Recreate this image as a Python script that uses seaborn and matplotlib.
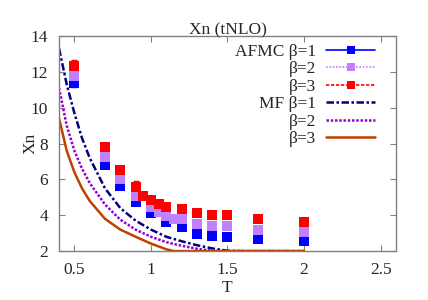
import numpy as np
import matplotlib
matplotlib.use("Agg")
import matplotlib.pyplot as plt
import seaborn as sns
from matplotlib.lines import Line2D

# --- AFMC data (T, Xn, err) ---
T_afmc1 = [0.5, 0.7, 0.8, 0.9, 1.0, 1.1, 1.2, 1.3, 1.4, 1.5, 1.7, 2.0]
Xn_afmc1 = [11.39, 6.80, 5.63, 4.73, 4.10, 3.60, 3.32, 2.95, 2.84, 2.80, 2.65, 2.56]
err_afmc1 = [0.22, 0.15, 0.12, 0.12, 0.10, 0.10, 0.12, 0.10, 0.08, 0.08, 0.08, 0.08]

T_afmc2 = [0.5, 0.7, 0.8, 0.9, 1.0, 1.05, 1.1, 1.15, 1.2, 1.3, 1.4, 1.5, 1.7, 2.0]
Xn_afmc2 = [11.77, 7.23, 6.00, 5.10, 4.44, 4.18, 3.95, 3.79, 3.77, 3.50, 3.40, 3.38, 3.17, 3.06]
err_afmc2 = [0.20, 0.18, 0.12, 0.12, 0.10, 0.10, 0.10, 0.08, 0.08, 0.08, 0.08, 0.08, 0.08, 0.08]

T_afmc3 = [0.5, 0.7, 0.8, 0.9, 0.95, 1.0, 1.05, 1.1, 1.2, 1.3, 1.4, 1.5, 1.7, 2.0]
Xn_afmc3 = [12.34, 7.80, 6.54, 5.55, 5.09, 4.85, 4.62, 4.47, 4.33, 4.10, 4.00, 4.00, 3.77, 3.62]
err_afmc3 = [0.32, 0.15, 0.12, 0.35, 0.12, 0.10, 0.10, 0.10, 0.10, 0.08, 0.08, 0.08, 0.08, 0.08]

# --- mean-field curves ---
T_mf1 = [0.4, 0.45, 0.5, 0.55, 0.6, 0.7, 0.8, 0.9, 1.0, 1.1, 1.2, 1.3, 1.4, 1.5, 1.6, 2.0]
Xn_mf1 = [13.3, 11.3, 9.7, 8.3, 7.2, 5.5, 4.4, 3.7, 3.2, 2.8, 2.55, 2.33, 2.15, 2.02, 2.0, 2.0]

T_mf2 = [0.4, 0.45, 0.5, 0.55, 0.6, 0.7, 0.8, 0.9, 1.0, 1.1, 1.2, 1.3, 1.4, 1.5, 2.0]
Xn_mf2 = [11.1, 9.0, 7.6, 6.6, 5.8, 4.6, 3.75, 3.2, 2.8, 2.5, 2.3, 2.13, 2.02, 2.0, 2.0]

T_mf3 = [0.4, 0.45, 0.5, 0.55, 0.6, 0.7, 0.8, 0.9, 1.0, 1.1, 1.15, 2.0]
Xn_mf3 = [9.4, 7.6, 6.4, 5.5, 4.8, 3.8, 3.2, 2.8, 2.42, 2.1, 2.0, 2.0]

C_BLUE, C_PURP, C_RED = "#0000ff", "#c080ff", "#ff0000"
C_NAVY, C_VIOL, C_BROWN = "#000080", "#9400d3", "#c04000"

sns.set_theme(style="ticks")
plt.rcParams['font.family'] = ['Liberation Serif', 'DejaVu Serif']

fig = plt.figure(figsize=(4.28, 3.0), dpi=100)
ax = fig.add_axes([0.138, 0.163, 0.787, 0.717])

# MF curves
sns.lineplot(x=T_mf1, y=Xn_mf1, ax=ax, color=C_NAVY, lw=1.8, zorder=2)
ax.lines[-1].set_linestyle((0, (3, 1, 1, 1)))
sns.lineplot(x=T_mf2, y=Xn_mf2, ax=ax, color=C_VIOL, lw=1.8, zorder=2)
ax.lines[-1].set_linestyle((0, (1, 0.7)))
sns.lineplot(x=T_mf3, y=Xn_mf3, ax=ax, color=C_BROWN, lw=1.8, zorder=2)

# AFMC points
for T, X, E, c in [(T_afmc1, Xn_afmc1, err_afmc1, C_BLUE),
                   (T_afmc2, Xn_afmc2, err_afmc2, C_PURP),
                   (T_afmc3, Xn_afmc3, err_afmc3, C_RED)]:
    ax.errorbar(T, X, yerr=E, fmt="none", ecolor=c, elinewidth=1.0, capsize=2, zorder=3)
    sns.scatterplot(x=T, y=X, ax=ax, color=c, marker="s", s=48, linewidth=0, zorder=4)

ax.set_xlim(0.4, 2.6)
ax.set_ylim(2, 14)
ax.set_xticks([0.5, 1, 1.5, 2, 2.5])
ax.set_xticklabels(["0.5", "1", "1.5", "2", "2.5"])
ax.set_yticks([2, 4, 6, 8, 10, 12, 14])
ax.tick_params(direction="in", length=4, width=0.8, color="#808080", labelsize=12.5,
               top=True, right=True, pad=8)
for s in ax.spines.values():
    s.set_color("#808080")
    s.set_linewidth(1.0)

ax.set_xlabel("T", fontsize=12.5, labelpad=1)
ax.set_ylabel("Xn", fontsize=12.5, labelpad=-6)
ax.set_title("Xn (tNLO)", fontsize=12.5, pad=1)

handles = [
    Line2D([], [], color=C_BLUE, lw=1.2, marker="s", ms=6, mew=0),
    Line2D([], [], color=C_PURP, lw=1.2, ls=(0, (1, 1)), marker="s", ms=6, mew=0),
    Line2D([], [], color=C_RED, lw=1.2, ls=(0, (2, 1)), marker="s", ms=6, mew=0),
    Line2D([], [], color=C_NAVY, lw=1.8, ls=(0, (3, 1, 1, 1))),
    Line2D([], [], color=C_VIOL, lw=1.8, ls=(0, (1, 0.7))),
    Line2D([], [], color=C_BROWN, lw=1.8),
]
labels = ["AFMC β=1", "β=2", "β=3", "MF β=1", "β=2", "β=3"]
leg = ax.legend(handles, labels, loc="upper right", bbox_to_anchor=(0.938, 0.965),
                frameon=False, borderpad=0, borderaxespad=0, markerfirst=False,
                handlelength=2.8, handletextpad=0.6, labelspacing=0.08,
                fontsize=12.5, numpoints=1)
leg._legend_handle_box.get_children()[0].align = "right"

fig.savefig("out.png", dpi=100)
